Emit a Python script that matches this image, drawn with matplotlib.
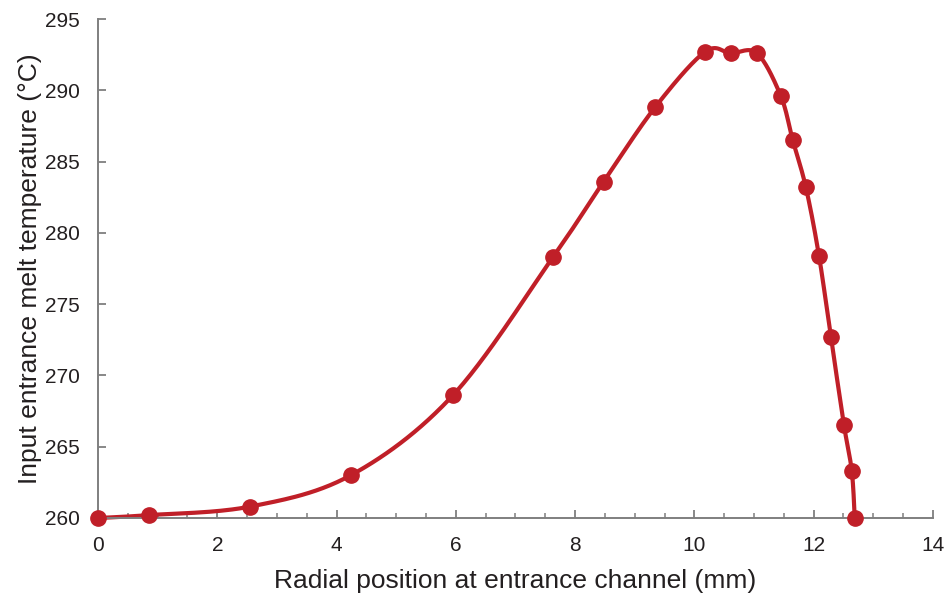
import numpy as np
import matplotlib
matplotlib.use("Agg")
import matplotlib.pyplot as plt

# Radial position (mm) and melt temperature (°C)
radial_mm = [0.0, 0.85, 2.55, 4.24, 5.95, 7.63, 8.48, 9.34, 10.18, 10.61,
             11.05, 11.45, 11.65, 11.87, 12.09, 12.29, 12.51, 12.64, 12.69]
melt_temp = [260.0, 260.2, 260.8, 263.0, 268.6, 278.3, 283.6, 288.8, 292.7,
             292.6, 292.6, 289.6, 286.5, 283.2, 278.4, 272.7, 266.5, 263.3, 260.0]

x_ticks = [0, 2, 4, 6, 8, 10, 12, 14]
y_ticks = [260, 265, 270, 275, 280, 285, 290, 295]

red = "#C01F28"
grey = "#7F7F7F"
text_col = "#231F20"


def smooth_curve(xs, ys, n=30):
    # Catmull-Rom style smoothing, like the spreadsheet "smoothed line"
    pts = np.column_stack([xs, ys])
    pts = np.vstack([pts[0], pts, pts[-1]])
    out = []
    t = np.linspace(0, 1, n)[:, None]
    for i in range(1, len(pts) - 2):
        p0, p1, p2, p3 = pts[i - 1], pts[i], pts[i + 1], pts[i + 2]
        c1 = p1 + (p2 - p0) / 6
        c2 = p2 - (p3 - p1) / 6
        seg = ((1 - t) ** 3) * p1 + 3 * ((1 - t) ** 2) * t * c1 \
            + 3 * (1 - t) * t ** 2 * c2 + t ** 3 * p2
        out.append(seg)
    out = np.vstack(out)
    return out[:, 0], out[:, 1]


plt.rcParams['font.family'] = ['Liberation Sans', 'DejaVu Sans']

fig = plt.figure(figsize=(9.49, 5.98), dpi=100, facecolor='white')
ax = fig.add_axes([0.1033, 0.1338, 0.8797, 0.8344])

sx, sy = smooth_curve(radial_mm, melt_temp)
ax.plot(sx, sy, color=red, linewidth=3.0, solid_capstyle='round', zorder=2, clip_on=False)
ax.plot(radial_mm, melt_temp, 'o', color=red, markersize=11, zorder=3, clip_on=False)

ax.set_xlim(0, 14)
ax.set_ylim(260, 295)
ax.set_xticks(x_ticks)
ax.set_xticks(np.arange(0, 14.01, 0.5), minor=True)
ax.set_yticks(y_ticks)

ax.spines['top'].set_visible(False)
ax.spines['right'].set_visible(False)
for s in ('left', 'bottom'):
    ax.spines[s].set_color(grey)
    ax.spines[s].set_linewidth(1.4)

ax.tick_params(axis='both', which='major', direction='in', length=6, width=1.3,
               color=grey, labelsize=15, labelcolor=text_col)
ax.tick_params(axis='x', which='minor', direction='in', length=3.5, width=1.1, color=grey)
ax.tick_params(axis='x', which='major', pad=13)
ax.tick_params(axis='y', which='major', pad=13)

ax.set_xlabel('Radial position at entrance channel (mm)', fontsize=19, color=text_col, labelpad=10)
ax.set_ylabel('Input entrance melt temperature (\u00b0C)', fontsize=19, color=text_col, labelpad=2)

fig.savefig('out.png', dpi=100, facecolor='white')
